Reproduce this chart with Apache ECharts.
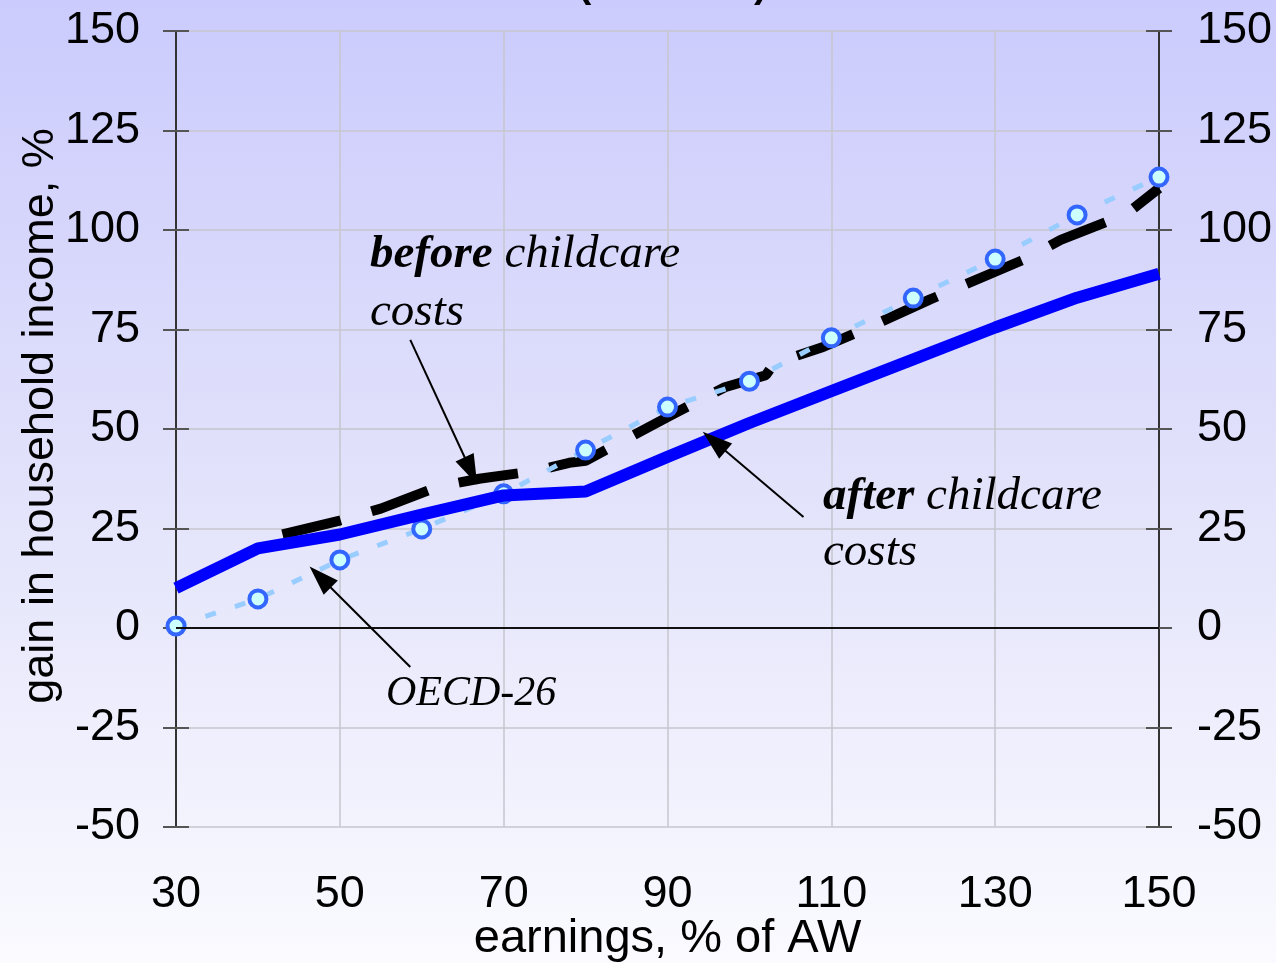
<!DOCTYPE html>
<html><head><meta charset="utf-8">
<script src="https://cdn.jsdelivr.net/npm/echarts@6/dist/echarts.min.js"></script>
<style>html,body{margin:0;padding:0;background:#fff;}#c{width:1276px;height:963px;}</style>
</head><body><div id="c"></div>
<script>
// ---- data ----
const earnings = [30, 40, 50, 60, 70, 80, 90, 100, 110, 120, 130, 140, 150];
const afterChildcare = [10, 20, 23.5, 28.5, 33.3, 34.3, 43, 51.5, 59.5, 67.5, 75.5, 83, 89];
const oecd26 = [0.5, 7.3, 17.1, 24.9, 33.7, 44.7, 55.5, 62, 72.9, 82.9, 92.7, 103.8, 113.3];
const beforeEarnings = [43, 50, 55, 62, 67, 74, 78, 80, 85, 90, 97, 102, 103, 109, 114, 122, 126, 134, 138, 146, 150];
const beforeChildcare = [23.5, 27, 30, 35.5, 37.5, 39.5, 41.5, 42, 47.5, 53, 60.5, 63.5, 66.5, 70.6, 75, 82.5, 86, 93, 97.5, 104, 110.5];
const yMin = -50, yMax = 150, yStep = 25;
const xMin = 30, xMax = 150, xStep = 20;

const SANS = '"Liberation Sans", Arial, sans-serif';
const SERIF = '"Liberation Serif", "Times New Roman", serif';

const zip = (xs, ys) => xs.map((x, i) => [x, ys[i]]);

const chart = echarts.init(document.getElementById('c'), null, {renderer: 'canvas'});

const gridLine = {show: true, lineStyle: {color: '#c6c6ce', width: 1.5}};
const axisLineStyle = {show: true, lineStyle: {color: '#333', width: 2}};
const tickStyle = {color: '#555', width: 2};
const yBase = {type: 'value', min: yMin, max: yMax, interval: yStep};

const arrowStyle = {color: '#000', width: 2, type: 'solid'};
function arrow(from, to) {
  return [
    {coord: from, symbol: 'none', lineStyle: arrowStyle},
    {coord: to, symbol: 'triangle', symbolSize: [20, 30]}
  ];
}

chart.setOption({
  animation: false,
  backgroundColor: {type: 'linear', x: 0, y: 0, x2: 0, y2: 1,
    colorStops: [{offset: 0, color: '#cbcbfd'}, {offset: 0.5, color: '#e2e2fb'}, {offset: 1, color: '#fafaff'}]},
  grid: {left: 176, right: 117, top: 31, bottom: 136, containLabel: false, outerBoundsMode: 'none'},
  xAxis: {
    type: 'value', min: xMin, max: xMax, interval: xStep,
    axisLine: {show: false}, axisTick: {show: false},
    axisLabel: {fontSize: 45, color: '#000', fontFamily: SANS, margin: 45},
    splitLine: gridLine,
    name: 'earnings, % of AW', nameLocation: 'middle', nameGap: 89, nameMoveOverlap: false,
    nameTextStyle: {fontSize: 47, color: '#000', fontFamily: SANS}
  },
  yAxis: [
    Object.assign({}, yBase, {
      position: 'left', axisLine: axisLineStyle,
      axisTick: {show: true, length: 13, lineStyle: tickStyle},
      axisLabel: {fontSize: 45, color: '#000', fontFamily: SANS, margin: 36},
      splitLine: gridLine,
      name: 'gain in household income, %', nameLocation: 'middle', nameGap: 113, nameMoveOverlap: false,
      nameTextStyle: {fontSize: 45, color: '#000', fontFamily: SANS, padding: [0, 0, 0, 26]}
    }),
    Object.assign({}, yBase, {
      position: 'right', axisLine: axisLineStyle,
      axisTick: {show: true, length: 13, lineStyle: tickStyle},
      axisLabel: {fontSize: 45, color: '#000', fontFamily: SANS, margin: 38},
      splitLine: {show: false}
    }),
    Object.assign({}, yBase, {
      position: 'left', axisLine: {show: false},
      axisTick: {show: true, inside: true, length: 13, lineStyle: tickStyle},
      axisLabel: {show: false}, splitLine: {show: false}
    }),
    Object.assign({}, yBase, {
      position: 'right', axisLine: {show: false},
      axisTick: {show: true, inside: true, length: 13, lineStyle: tickStyle},
      axisLabel: {show: false}, splitLine: {show: false}
    })
  ],
  series: [
    {
      name: 'before childcare costs', type: 'line', z: 2,
      data: zip(beforeEarnings, beforeChildcare),
      symbol: 'none',
      lineStyle: {color: '#000', width: 10, type: [60, 32], cap: 'butt'},
      markLine: {
        silent: true, symbol: 'none', label: {show: false},
        lineStyle: {color: '#111', width: 2, type: 'solid'},
        data: [{yAxis: 0}]
      }
    },
    {
      name: 'OECD-26', type: 'line', z: 3,
      data: zip(earnings, oecd26),
      symbol: 'circle', symbolSize: 17, showAllSymbol: true,
      itemStyle: {color: '#ccffff', borderColor: '#3366ff', borderWidth: 4},
      lineStyle: {color: '#99ccff', width: 5, type: [11, 20]}
    },
    {
      name: 'after childcare costs', type: 'line', z: 4,
      data: zip(earnings, afterChildcare),
      symbol: 'none',
      lineStyle: {color: '#0000ff', width: 12},
      markLine: {
        silent: true, label: {show: false}, symbol: ['none', 'triangle'],
        lineStyle: arrowStyle,
        itemStyle: {color: '#000'},
        data: [
          arrow([58.6, 72.4], [66.0, 39.5]),
          arrow([106.6, 27.9], [95.7, 46.9]),
          arrow([58.6, -9.8], [47.6, 12.8])
        ]
      }
    }
  ],
  graphic: [
    {type: 'text', x: 370, y: 226, z: 10, style: {
      text: '{b|before} childcare\ncosts', fill: '#000',
      fontSize: 47, fontFamily: SERIF, fontStyle: 'italic', lineHeight: 58,
      verticalAlign: 'top',
      rich: {b: {fontSize: 47, fontFamily: SERIF, fontStyle: 'italic', fontWeight: 'bold', lineHeight: 58}}
    }},
    {type: 'text', x: 823, y: 469, z: 10, style: {
      text: '{b|after} childcare\ncosts', fill: '#000',
      fontSize: 47, fontFamily: SERIF, fontStyle: 'italic', lineHeight: 56,
      verticalAlign: 'top',
      rich: {b: {fontSize: 47, fontFamily: SERIF, fontStyle: 'italic', fontWeight: 'bold', lineHeight: 56}}
    }},
    {type: 'text', x: 386, y: 694, z: 10, style: {
      text: 'OECD-26', fill: '#000', fontSize: 42, fontFamily: SERIF, fontStyle: 'italic',
      verticalAlign: 'middle'
    }},
    {type: 'text', x: 578, y: -14, z: 10, style: {
      text: '(', fill: '#000', fontSize: 40, fontFamily: SANS, fontWeight: 'bold', verticalAlign: 'middle'
    }},
    {type: 'text', x: 754, y: -14, z: 10, style: {
      text: ')', fill: '#000', fontSize: 40, fontFamily: SANS, fontWeight: 'bold', verticalAlign: 'middle'
    }}
  ]
});
</script>
</body></html>
